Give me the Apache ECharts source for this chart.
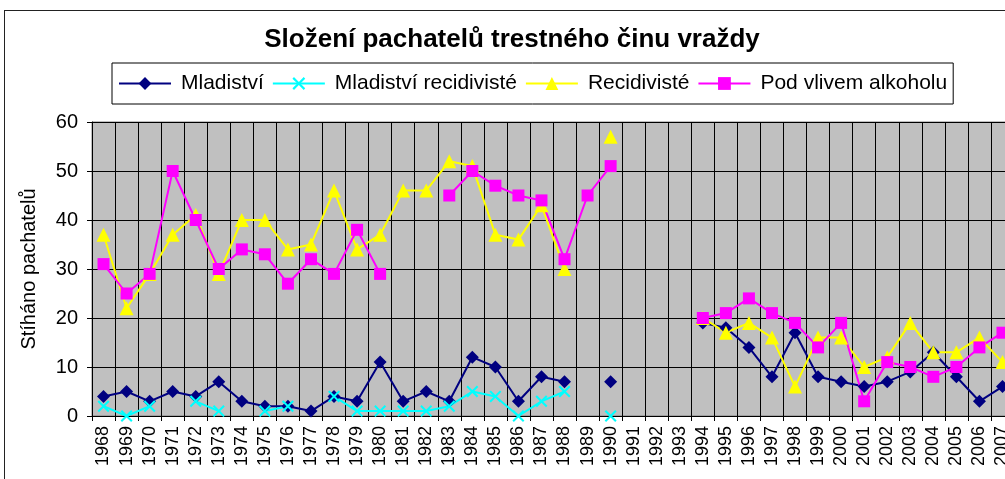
<!DOCTYPE html>
<html>
<head>
<meta charset="utf-8">
<script src="https://cdn.jsdelivr.net/npm/echarts@6/dist/echarts.min.js"></script>
<style>
html,body{margin:0;padding:0;background:#fff;overflow:hidden;width:1005px;height:479px;}
#chart{position:absolute;left:4px;top:10px;width:1031px;height:541px;border-left:1px solid #222;border-top:1px solid #222;box-sizing:border-box;}
</style>
</head>
<body>
<div id="chart"></div>
<script>
const years = ['1968','1969','1970','1971','1972','1973','1974','1975','1976','1977','1978','1979','1980','1981','1982','1983','1984','1985','1986','1987','1988','1989','1990','1991','1992','1993','1994','1995','1996','1997','1998','1999','2000','2001','2002','2003','2004','2005','2006','2007'];
const mladistvi = [4,5,3,5,4,7,3,2,2,1,4,3,11,3,5,3,12,10,3,8,7,null,7,null,null,null,19,18,14,8,17,8,7,6,7,9,13,8,3,6];
const mladistviRecidiviste = [2,0,2,null,3,1,null,1,2,null,4,1,1,1,1,2,5,4,0,3,5,null,0,null,null,null,null,null,null,null,null,null,null,null,null,null,null,null,null,null];
const recidiviste = [37,22,29,37,41,29,40,40,34,35,46,34,37,46,46,52,51,37,36,43,30,null,57,null,null,null,20,17,19,16,6,16,16,10,12,19,13,13,16,11];
const podVlivemAlkoholu = [31,25,29,50,40,30,34,33,27,32,29,38,29,null,null,45,50,47,45,44,32,45,51,null,null,null,20,21,24,21,19,14,19,3,11,10,8,10,14,17];
const yTicks = {min:0, max:60, interval:10};

const font = 'Liberation Sans, Arial, sans-serif';
const xSym = 'path://M0,1.2 L1.2,0 L5,3.8 L8.8,0 L10,1.2 L6.2,5 L10,8.8 L8.8,10 L5,6.2 L1.2,10 L0,8.8 L3.8,5 Z';

function mkSeries(name, data, color, symbol, size){
  return {
    name, type:'line', data, color,
    symbol, symbolSize:size, showAllSymbol:true, connectNulls:false,
    lineStyle:{color, width:2},
    itemStyle:{color, borderWidth:0},
    emphasis:{disabled:true},
    animation:false
  };
}

const chart = echarts.init(document.getElementById('chart'));
chart.setOption({
  animation:false,
  title:{
    text:'Složení pachatelů trestného činu vraždy',
    left:507, top:16, textAlign:'center', padding:0,
    textStyle:{fontFamily:font, fontSize:26, fontWeight:'bold', color:'#000'}
  },
  legend:{
    left:107, top:52,
    padding:[10,6,10,6],
    borderColor:'#000', borderWidth:1,
    itemWidth:52, itemHeight:16, itemGap:8,
    textStyle:{fontFamily:font, fontSize:21, color:'#000', padding:[0,0,0,5]},
    data:['Mladiství','Mladiství recidivisté','Recidivisté','Pod vlivem alkoholu']
  },
  grid:{
    left:87, top:111, width:922, height:294,
    show:true, backgroundColor:'#c0c0c0', borderColor:'#808080', borderWidth:1
  },
  xAxis:{
    type:'category', data:years, boundaryGap:true,
    axisLine:{lineStyle:{color:'#000', width:1}},
    axisTick:{show:true, interval:0, length:5, lineStyle:{color:'#000'}},
    axisLabel:{interval:0, rotate:90, margin:10, fontFamily:font, fontSize:18, color:'#000'},
    splitLine:{show:true, interval:0, lineStyle:{color:'#000', width:1}}
  },
  yAxis:{
    type:'value', min:yTicks.min, max:yTicks.max, interval:yTicks.interval,
    name:'Stíháno pachatelů', nameLocation:'middle', nameGap:53,
    nameTextStyle:{fontFamily:font, fontSize:20, color:'#000'},
    axisLine:{show:true, lineStyle:{color:'#000', width:1}},
    axisTick:{show:true, length:5, lineStyle:{color:'#000'}},
    axisLabel:{margin:14, fontFamily:font, fontSize:20, color:'#000'},
    splitLine:{show:true, lineStyle:{color:'#000', width:1}}
  },
  series:[
    mkSeries('Mladiství', mladistvi, '#000080', 'diamond', 13),
    mkSeries('Mladiství recidivisté', mladistviRecidiviste, '#00ffff', xSym, 12),
    mkSeries('Recidivisté', recidiviste, '#ffff00', 'triangle', 14),
    mkSeries('Pod vlivem alkoholu', podVlivemAlkoholu, '#ff00ff', 'rect', 12)
  ]
});
</script>
</body>
</html>
